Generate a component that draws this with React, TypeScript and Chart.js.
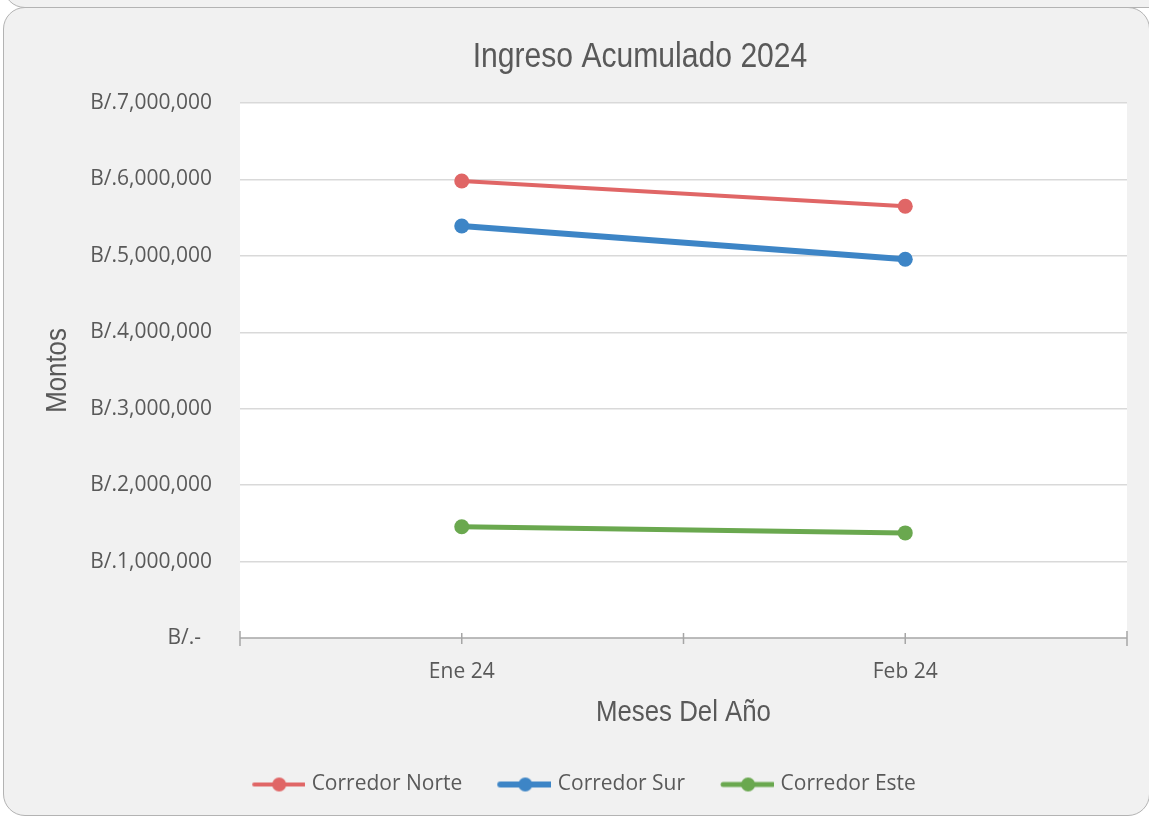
import React, { useEffect, useRef } from 'react';
import { Chart, registerables } from 'chart.js';

Chart.register(...registerables);

const TITLE = 'Ingreso Acumulado 2024';
const X_TITLE = 'Meses Del Año';
const Y_TITLE = 'Montos';
const categories = ['Ene 24', 'Feb 24'];
const seriesNames = ['Corredor Norte', 'Corredor Sur', 'Corredor Este'];
const norteValues = [5980000, 5650000];
const surValues = [5390000, 4955000];
const esteValues = [1455000, 1375000];
const seriesColors = ['#e06666', '#3d85c6', '#6aa84f'];
const seriesWidths = [4, 6, 5];
const yMin = 0;
const yMax = 7000000;
const yStep = 1000000;

const TEXT = '#595959';
const NARROW = '"Liberation Sans", Arial, sans-serif';
const NARROW_SCALE = 0.86;
const BODY = '"Open Sans", "Noto Sans", sans-serif';

function formatTick(v: number): string {
  if (v === 0) return 'B/.-  ';
  return 'B/.' + v.toLocaleString('en-US');
}

function makeSwatch(color: string, lw: number): HTMLCanvasElement {
  const c = document.createElement('canvas');
  c.width = 60;
  c.height = 16;
  const ctx = c.getContext('2d')!;
  ctx.strokeStyle = color;
  ctx.lineWidth = lw;
  ctx.lineCap = 'round';
  ctx.beginPath();
  ctx.moveTo(9, 8);
  ctx.lineTo(59, 8);
  ctx.stroke();
  ctx.fillStyle = color;
  ctx.beginPath();
  ctx.arc(34, 8, 7, 0, Math.PI * 2);
  ctx.fill();
  return c;
}

function drawNarrowText(ctx: any, text: string, x: number, y: number, size: number, rotate: boolean) {
  ctx.save();
  ctx.translate(x, y);
  if (rotate) ctx.rotate(-Math.PI / 2);
  ctx.scale(NARROW_SCALE, 1);
  ctx.font = size + 'px ' + NARROW;
  ctx.fillStyle = TEXT;
  ctx.textAlign = 'center';
  ctx.textBaseline = 'alphabetic';
  ctx.fillText(text, 0, 0);
  ctx.restore();
}

const plotBgPlugin = {
  id: 'plotBg',
  beforeDraw(chart: any) {
    const { ctx, chartArea } = chart;
    ctx.save();
    ctx.fillStyle = '#ffffff';
    ctx.fillRect(chartArea.left, chartArea.top, chartArea.right - chartArea.left, chartArea.bottom - chartArea.top);
    ctx.restore();
  },
};

const titlesPlugin = {
  id: 'customTitles',
  afterDraw(chart: any) {
    const { ctx, chartArea } = chart;
    const cx = (chartArea.left + chartArea.right) / 2;
    const cy = (chartArea.top + chartArea.bottom) / 2;
    drawNarrowText(ctx, TITLE, cx - 43.5, chartArea.top - 36, 35, false);
    drawNarrowText(ctx, X_TITLE, cx, chartArea.bottom + 83, 30, false);
    drawNarrowText(ctx, Y_TITLE, chartArea.left - 174, cy, 30, true);
  },
};

const xTicksPlugin = {
  id: 'xTickMarks',
  afterDraw(chart: any) {
    const { ctx, chartArea } = chart;
    const xs = chart.scales.x;
    const n = categories.length;
    const centers: number[] = [];
    for (let i = 0; i < n; i++) centers.push(xs.getPixelForValue(i));
    const marks: number[] = [chartArea.left];
    for (let i = 0; i < n; i++) {
      marks.push(centers[i]);
      if (i < n - 1) marks.push((centers[i] + centers[i + 1]) / 2);
    }
    marks.push(chartArea.right);
    const y = chartArea.bottom;
    ctx.save();
    ctx.strokeStyle = '#a6a6a6';
    ctx.lineWidth = 1.5;
    ctx.beginPath();
    ctx.moveTo(chartArea.left, y);
    ctx.lineTo(chartArea.right, y);
    for (const m of marks) {
      const edge = m === chartArea.left || m === chartArea.right;
      ctx.moveTo(m, y - (edge ? 7 : 5));
      ctx.lineTo(m, y + (edge ? 8 : 6));
    }
    ctx.stroke();
    ctx.restore();
  },
};

export default function App() {
  const canvasRef = useRef<HTMLCanvasElement | null>(null);

  useEffect(() => {
    const canvas = canvasRef.current;
    if (!canvas) return;
    const values = [norteValues, surValues, esteValues];
    const swatches = seriesColors.map((c, i) => makeSwatch(c, seriesWidths[i]));
    const chart = new Chart(canvas, {
      type: 'line',
      data: {
        labels: categories,
        datasets: seriesNames.map((name, i) => ({
          label: name,
          data: values[i],
          borderColor: seriesColors[i],
          backgroundColor: seriesColors[i],
          pointBackgroundColor: seriesColors[i],
          pointBorderColor: seriesColors[i],
          pointBorderWidth: 0,
          pointRadius: 7.5,
          borderWidth: seriesWidths[i],
          tension: 0,
          fill: false,
        })),
      },
      options: {
        responsive: false,
        animation: false,
        devicePixelRatio: 1,
        layout: { padding: { left: 38, right: 22, top: 103, bottom: 0 } },
        plugins: {
          title: { display: false },
          tooltip: { enabled: false },
          legend: {
            display: true,
            position: 'bottom',
            labels: {
              usePointStyle: true,
              pointStyleWidth: 52,
              boxHeight: 16,
              padding: 33,
              color: TEXT,
              font: { family: BODY, size: 21 },
              generateLabels: (ch: any) =>
                ch.data.datasets.map((ds: any, i: number) => ({
                  text: ds.label,
                  pointStyle: swatches[i],
                  fillStyle: 'transparent',
                  strokeStyle: 'transparent',
                  lineWidth: 0,
                  hidden: false,
                  datasetIndex: i,
                  fontColor: TEXT,
                })),
            },
          },
        },
        scales: {
          x: {
            type: 'category',
            offset: true,
            afterFit: (s: any) => {
              s.height = 103;
            },
            border: { display: false },
            grid: { display: true, drawOnChartArea: false, drawTicks: false, offset: true, color: 'transparent' },
            ticks: { color: TEXT, padding: 21, font: { family: BODY, size: 21 } },
            title: { display: false },
          },
          y: {
            min: yMin,
            max: yMax,
            afterFit: (s: any) => {
              s.width = 202;
            },
            border: { display: false },
            grid: {
              drawTicks: false,
              lineWidth: 1.5,
              color: (c: any) => (c.tick && c.tick.value === 0 ? 'transparent' : '#d9d9d9'),
            },
            ticks: {
              stepSize: yStep,
              padding: 28,
              color: TEXT,
              font: { family: BODY, size: 21 },
              callback: (v: any) => formatTick(Number(v)),
            },
            title: { display: false },
          },
        },
      },
      plugins: [plotBgPlugin, titlesPlugin, xTicksPlugin],
    } as any);
    return () => chart.destroy();
  }, []);

  return (
    <div
      style={{
        position: 'fixed',
        left: 0,
        top: 0,
        width: 1149,
        height: 817,
        overflow: 'hidden',
        background: '#ffffff',
      }}
    >
      <div
        style={{
          position: 'absolute',
          left: 3,
          top: -40,
          width: 1170,
          height: 46,
          border: '1.5px solid #b3b3b3',
          borderRadius: 22,
          background: '#f1f1f1',
        }}
      />
      <div
        style={{
          position: 'absolute',
          left: 3,
          top: 7,
          width: 1145,
          height: 807,
          border: '1.5px solid #b3b3b3',
          borderRadius: 22,
          background: '#f1f1f1',
        }}
      />
      <canvas
        ref={canvasRef}
        width={1149}
        height={805}
        style={{ position: 'absolute', left: 0, top: 0, width: 1149, height: 805 }}
      />
    </div>
  );
}
